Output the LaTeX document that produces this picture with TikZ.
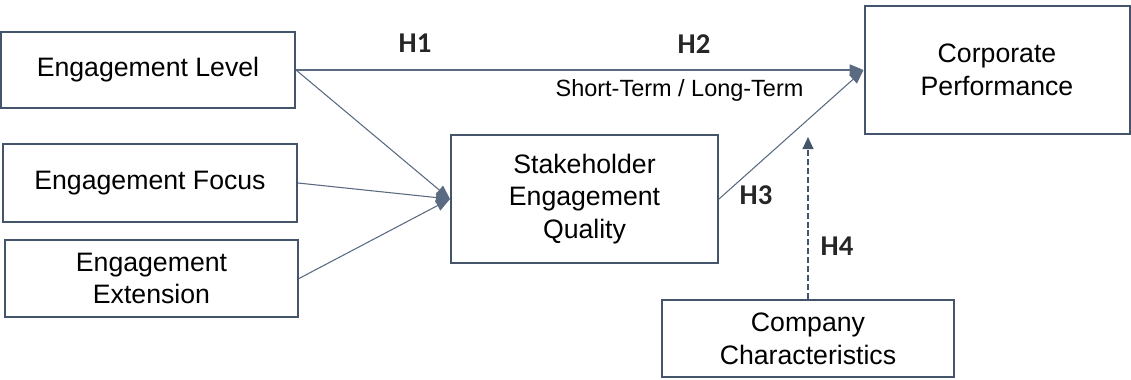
\documentclass[tikz,border=0pt]{standalone}
\usepackage{fontspec}
\setmainfont{Liberation Sans}
\newfontfamily\hfont{Carlito}
\usetikzlibrary{arrows.meta}
\definecolor{boxc}{HTML}{44546A}
\definecolor{linec}{HTML}{5A6A80}
\begin{document}
\begin{tikzpicture}[x=0.75pt,y=-0.75pt,
  box/.style={draw=boxc,line width=1.5pt,rectangle,inner sep=0pt,align=center,
    font=\fontsize{20}{24.5}\selectfont,text=black},
  conn/.style={draw=linec,line width=0.8pt,-{Triangle[length=10.5pt,width=8.5pt]}},
  hyp/.style={font=\hfont\bfseries\fontsize{21.5}{24}\selectfont,text=black!85,anchor=base},
  dashconn/.style={draw=boxc,line width=1.5pt,dash pattern=on 4.5pt off 2.2pt,
    -{Triangle[length=9pt,width=8pt]}}]
\useasboundingbox (0,0) rectangle (1131,379);
\node[box,minimum width=220.5pt,minimum height=57pt] (EL) at (148,70) {Engagement Level};
\node[box,minimum width=220.5pt,minimum height=58.5pt] (EF) at (150,183) {Engagement Focus};
\node[box,minimum width=219.75pt,minimum height=57.75pt] (EE) at (151.5,278.5) {Engagement\\Extension};
\node[box,minimum width=200.25pt,minimum height=96pt] (SEQ) at (584.5,199) {Stakeholder\\Engagement\\Quality};
\node[box,minimum width=198.75pt,minimum height=96pt] (CP) at (997,70) {Corporate\\Performance};
\node[box,minimum width=219pt,minimum height=57.75pt] (CC) at (808,338.5) {Company\\Characteristics};
\coordinate (h4end) at (808,137);
\draw[conn] (EL.east) -- (CP.west);
\draw[conn] (EL.east) -- (SEQ.west);
\draw[conn] (EF.east) -- (SEQ.west);
\draw[conn] (EE.east) -- (SEQ.west);
\draw[conn] (SEQ.east) -- (CP.west);
\draw[dashconn] (CC.north) -- (h4end);
\node[hyp] (h1) at (415,52) {H1};
\node[hyp] (h2) at (694,53) {H2};
\node[hyp] (h3) at (756,204) {H3};
\node[hyp] (h4) at (837,255) {H4};
\node[anchor=base,font=\fontsize{17.6}{20}\selectfont] (st) at (679.5,96) {Short-Term / Long-Term};
\end{tikzpicture}
\end{document}
